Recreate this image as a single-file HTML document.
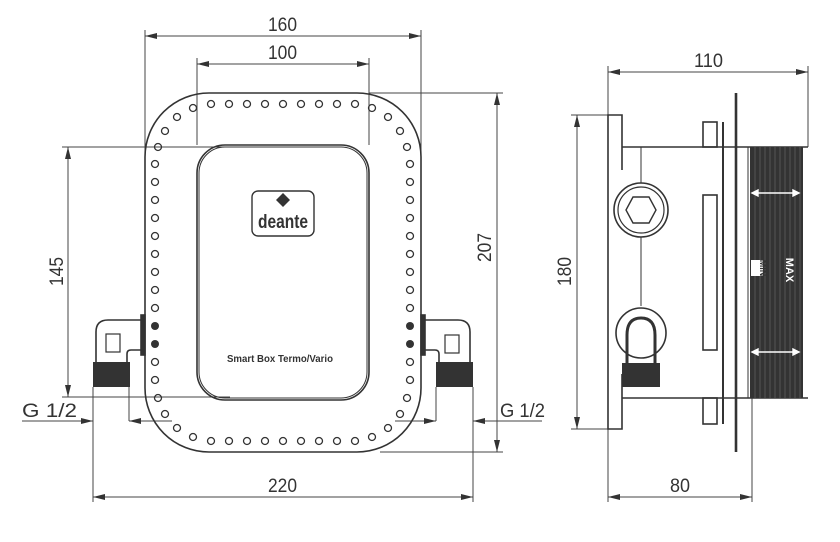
<!DOCTYPE html>
<html><head><meta charset="utf-8"><style>
html,body{margin:0;padding:0;background:#fff;}
svg{display:block}
text{font-family:"Liberation Sans Narrow","Liberation Sans",sans-serif;fill:#333}
</style></head><body>
<svg width="840" height="542" viewBox="0 0 840 542" xmlns="http://www.w3.org/2000/svg">
<defs>
<marker id="a" viewBox="0 0 12 6" refX="12" refY="3" markerWidth="12" markerHeight="6" orient="auto-start-reverse" markerUnits="userSpaceOnUse"><path d="M0,0 L12,3 L0,6 z" fill="#333"/></marker>
</defs>
<g stroke="#444" stroke-width="1" fill="none">
<line x1="145" y1="30" x2="145" y2="200"/><line x1="421" y1="30" x2="421" y2="200"/>
<line x1="197" y1="58" x2="197" y2="145"/><line x1="369" y1="58" x2="369" y2="145"/>
<line x1="369" y1="93" x2="503" y2="93"/><line x1="380" y1="452" x2="503" y2="452"/>
<line x1="62" y1="147" x2="230" y2="147"/><line x1="62" y1="397" x2="230" y2="397"/>
<line x1="93" y1="387" x2="93" y2="502"/><line x1="129" y1="387" x2="129" y2="421"/>
<line x1="436" y1="387" x2="436" y2="421"/><line x1="473" y1="387" x2="473" y2="502"/>
<line x1="145" y1="36" x2="421" y2="36" marker-start="url(#a)" marker-end="url(#a)"/>
<line x1="197" y1="64" x2="369" y2="64" marker-start="url(#a)" marker-end="url(#a)"/>
<line x1="497" y1="93" x2="497" y2="452" marker-start="url(#a)" marker-end="url(#a)"/>
<line x1="68" y1="147" x2="68" y2="397" marker-start="url(#a)" marker-end="url(#a)"/>
<line x1="93" y1="497" x2="473" y2="497" marker-start="url(#a)" marker-end="url(#a)"/>
<line x1="22" y1="421" x2="93" y2="421" marker-end="url(#a)"/>
<line x1="172" y1="421" x2="129" y2="421" marker-end="url(#a)"/>
<line x1="395" y1="421" x2="436" y2="421" marker-end="url(#a)"/>
<line x1="542" y1="421" x2="473" y2="421" marker-end="url(#a)"/>
<line x1="608" y1="66" x2="608" y2="115"/><line x1="808" y1="66" x2="808" y2="147"/>
<line x1="608" y1="429" x2="608" y2="502"/><line x1="752" y1="398" x2="752" y2="502"/>
<line x1="571" y1="115" x2="608" y2="115"/><line x1="571" y1="429" x2="608" y2="429"/>
<line x1="608" y1="72" x2="808" y2="72" marker-start="url(#a)" marker-end="url(#a)"/>
<line x1="608" y1="497" x2="752" y2="497" marker-start="url(#a)" marker-end="url(#a)"/>
<line x1="577" y1="115" x2="577" y2="429" marker-start="url(#a)" marker-end="url(#a)"/>
</g>
<g font-size="19">
<text x="268" y="31" textLength="29" lengthAdjust="spacingAndGlyphs">160</text>
<text x="268" y="59" textLength="29" lengthAdjust="spacingAndGlyphs">100</text>
<text x="268" y="492" textLength="29" lengthAdjust="spacingAndGlyphs">220</text>
<text x="694" y="67" textLength="29" lengthAdjust="spacingAndGlyphs">110</text>
<text x="670" y="492" textLength="20" lengthAdjust="spacingAndGlyphs">80</text>
<text x="22" y="417" textLength="55" lengthAdjust="spacingAndGlyphs">G 1/2</text>
<text x="500" y="417" textLength="45" lengthAdjust="spacingAndGlyphs">G 1/2</text>
<text transform="translate(491,262) rotate(-90)" textLength="29" lengthAdjust="spacingAndGlyphs">207</text>
<text transform="translate(63,286) rotate(-90)" textLength="29" lengthAdjust="spacingAndGlyphs">145</text>
<text transform="translate(571,286) rotate(-90)" textLength="29" lengthAdjust="spacingAndGlyphs">180</text>
</g>
<g stroke="#333" fill="none" stroke-width="1.6">
<rect x="145" y="93" width="276" height="359" rx="64"/>
<rect x="197" y="145" width="172" height="255" rx="28"/>
<rect x="199" y="147" width="168" height="251" rx="26" stroke-width="1"/>
<rect x="252" y="191" width="62" height="45" rx="6" stroke-width="1.4"/>
<path d="M141,320 H108 Q96,320 96,332 V362 M127,362 V354 Q127,350 131,350 H141"/>
<rect x="106" y="334" width="14" height="18" stroke-width="1.2"/>
<rect x="141" y="315" width="4" height="40" fill="#333"/>
<path d="M425,320 H458 Q470,320 470,332 V362 M439,362 V354 Q439,350 435,350 H425"/>
<rect x="445" y="335" width="14" height="18" stroke-width="1.2"/>
<rect x="421" y="315" width="4" height="40" fill="#333"/>
</g>
<rect x="93" y="362" width="37" height="25" fill="#333"/>
<rect x="436" y="362" width="37" height="25" fill="#333"/>
<path d="M283,193 L290,200 L283,207 L276,200 z" fill="#333"/>
<text x="258" y="228" font-size="19" font-weight="bold" style="font-family:'Liberation Sans Narrow','Liberation Sans',sans-serif" textLength="50" lengthAdjust="spacingAndGlyphs">deante</text>
<text x="227" y="362" font-size="10" font-weight="bold" style="font-family:'Liberation Sans',sans-serif" textLength="106" lengthAdjust="spacingAndGlyphs">Smart Box Termo/Vario</text>
<g stroke="#333" stroke-width="1.3" fill="none">
<circle cx="211" cy="104" r="3.5"/><circle cx="229" cy="104" r="3.5"/><circle cx="247" cy="104" r="3.5"/><circle cx="265" cy="104" r="3.5"/><circle cx="283" cy="104" r="3.5"/><circle cx="301" cy="104" r="3.5"/><circle cx="319" cy="104" r="3.5"/><circle cx="337" cy="104" r="3.5"/><circle cx="355" cy="104" r="3.5"/>
<circle cx="211" cy="441" r="3.5"/><circle cx="229" cy="441" r="3.5"/><circle cx="247" cy="441" r="3.5"/><circle cx="265" cy="441" r="3.5"/><circle cx="283" cy="441" r="3.5"/><circle cx="301" cy="441" r="3.5"/><circle cx="319" cy="441" r="3.5"/><circle cx="337" cy="441" r="3.5"/><circle cx="355" cy="441" r="3.5"/>
<circle cx="193" cy="108" r="3.5"/><circle cx="177" cy="117" r="3.5"/><circle cx="165" cy="131" r="3.5"/><circle cx="158" cy="147" r="3.5"/>
<circle cx="372" cy="108" r="3.5"/><circle cx="388" cy="117" r="3.5"/><circle cx="400" cy="131" r="3.5"/><circle cx="407" cy="147" r="3.5"/>
<circle cx="193" cy="437" r="3.5"/><circle cx="177" cy="428" r="3.5"/><circle cx="165" cy="414" r="3.5"/><circle cx="158" cy="398" r="3.5"/>
<circle cx="372" cy="437" r="3.5"/><circle cx="388" cy="428" r="3.5"/><circle cx="400" cy="414" r="3.5"/><circle cx="407" cy="398" r="3.5"/>
<circle cx="155" cy="164" r="3.5"/><circle cx="155" cy="182" r="3.5"/><circle cx="155" cy="200" r="3.5"/><circle cx="155" cy="218" r="3.5"/><circle cx="155" cy="236" r="3.5"/><circle cx="155" cy="254" r="3.5"/><circle cx="155" cy="272" r="3.5"/><circle cx="155" cy="290" r="3.5"/><circle cx="155" cy="308" r="3.5"/><circle cx="155" cy="362" r="3.5"/><circle cx="155" cy="380" r="3.5"/>
<circle cx="410" cy="164" r="3.5"/><circle cx="410" cy="182" r="3.5"/><circle cx="410" cy="200" r="3.5"/><circle cx="410" cy="218" r="3.5"/><circle cx="410" cy="236" r="3.5"/><circle cx="410" cy="254" r="3.5"/><circle cx="410" cy="272" r="3.5"/><circle cx="410" cy="290" r="3.5"/><circle cx="410" cy="308" r="3.5"/><circle cx="410" cy="362" r="3.5"/><circle cx="410" cy="380" r="3.5"/>
</g>
<g fill="#333"><circle cx="155" cy="326" r="4"/><circle cx="155" cy="344" r="4"/><circle cx="410" cy="326" r="4"/><circle cx="410" cy="344" r="4"/></g>
<g stroke="#333" fill="none" stroke-width="1.6">
<path d="M622,170 V115 H608 V429 H622 V374"/>
<line x1="622" y1="147" x2="808" y2="147"/><line x1="622" y1="398" x2="808" y2="398"/>
<rect x="703" y="122" width="14" height="25"/><rect x="703" y="398" width="14" height="26"/>
<rect x="703" y="195" width="14" height="155"/>
<line x1="723" y1="122" x2="723" y2="424" stroke-width="2"/>
<line x1="736" y1="93" x2="736" y2="452" stroke-width="2.6"/>
<line x1="748" y1="147" x2="748" y2="398" stroke-width="1"/>
<line x1="641" y1="147" x2="641" y2="183" stroke-width="1"/><line x1="641" y1="237" x2="641" y2="306" stroke-width="1"/>
<circle cx="641" cy="210" r="27"/><circle cx="641" cy="210" r="23" stroke-width="1.2"/>
<path d="M633,197 H649 L656,210 L649,223 H633 L626,210 z" stroke-width="1.4"/>
<circle cx="641" cy="333" r="25"/>
<path d="M627,363 V335 Q627,318 641,318 Q655,318 655,335 V363" stroke-width="3"/>
</g>
<rect x="622" y="363" width="38" height="24" fill="#333"/>
<rect x="750" y="147" width="53" height="251" fill="#333"/>
<g stroke="#666" stroke-width="0.7">
<line x1="755" y1="147" x2="755" y2="398"/><line x1="760" y1="147" x2="760" y2="398"/><line x1="765" y1="147" x2="765" y2="398"/><line x1="770" y1="147" x2="770" y2="398"/><line x1="775" y1="147" x2="775" y2="398"/><line x1="780" y1="147" x2="780" y2="398"/><line x1="785" y1="147" x2="785" y2="398"/><line x1="790" y1="147" x2="790" y2="398"/><line x1="795" y1="147" x2="795" y2="398"/><line x1="800" y1="147" x2="800" y2="398"/>
</g>
<g stroke="#fff" stroke-width="1.4" fill="#fff">
<line x1="755" y1="193" x2="796" y2="193"/><path d="M752,193 l6,-3 v6z M799,193 l-6,-3 v6z"/>
<line x1="755" y1="352" x2="796" y2="352"/><path d="M752,352 l6,-3 v6z M799,352 l-6,-3 v6z"/>
</g>
<rect x="751" y="260" width="12" height="16" fill="#fff"/>
<text transform="translate(760,268) rotate(90)" text-anchor="middle" font-size="9" font-weight="bold" fill="#333">MIN</text>
<text transform="translate(786,270) rotate(90)" text-anchor="middle" font-size="11" font-weight="bold" style="fill:#fff">MAX</text>
</svg>
</body></html>
